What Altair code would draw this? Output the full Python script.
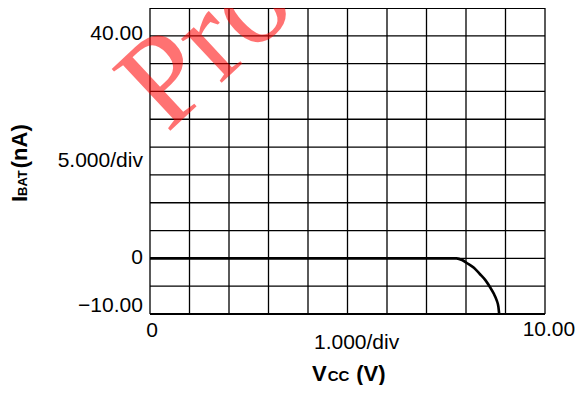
import altair as alt
import pandas as pd

# ---- data ----
vcc = [0, 7.6, 7.76, 7.9, 8.02, 8.2, 8.35, 8.5, 8.61, 8.7, 8.78, 8.82, 8.84]
ibat = [0, 0, 0, -0.3, -0.83, -1.7, -2.81, -4.0, -5.2, -6.3, -7.6, -8.7, -10]

x_grid = list(range(0, 11))
y_grid = list(range(-10, 50, 5))
y_border = [-10, 45]

y_tick_labels = ["40.00", "5.000/div", "0", "\u221210.00"]
y_tick_pos = [40.4, 17.5, 0.05, -8.6]
x_tick_labels = ["0", "10.00"]
x_tick_pos = [0.05, 10.1]
x_tick_y = [-13.1, -12.8]
x_div_label = ["1.000/div"]

FONT = "Liberation Sans, Arial, Helvetica, sans-serif"

xs = alt.Scale(domain=[0, 10], nice=False, zero=False)
ys = alt.Scale(domain=[-10, 45], nice=False, zero=False)

vgrid = alt.Chart(pd.DataFrame({"x": x_grid})).mark_rule(
    color="black", strokeWidth=1.3
).encode(x=alt.X("x:Q", scale=xs, axis=None))

hgrid = alt.Chart(pd.DataFrame({"y": y_grid})).mark_rule(
    color="black", strokeWidth=1.3
).encode(y=alt.Y("y:Q", scale=ys, axis=None))

hborder = alt.Chart(pd.DataFrame({"y": y_border})).mark_rule(
    color="black", strokeWidth=2.2
).encode(y=alt.Y("y:Q", scale=ys, axis=None))

curve = alt.Chart(pd.DataFrame({"v": vcc, "i": ibat})).mark_line(
    color="black", strokeWidth=2.6, interpolate="monotone"
).encode(
    x=alt.X("v:Q", scale=xs, axis=None),
    y=alt.Y("i:Q", scale=ys, axis=None),
)

ylab = alt.Chart(pd.DataFrame({"t": y_tick_labels, "y": y_tick_pos, "x": [-0.18] * 4})).mark_text(
    align="right", baseline="middle", font=FONT, fontSize=21, color="black"
).encode(x=alt.X("x:Q", scale=xs), y=alt.Y("y:Q", scale=ys), text="t:N")

xlab = alt.Chart(pd.DataFrame({"t": x_tick_labels, "x": x_tick_pos, "y": x_tick_y})).mark_text(
    align="center", baseline="middle", font=FONT, fontSize=21, color="black"
).encode(x=alt.X("x:Q", scale=xs), y=alt.Y("y:Q", scale=ys), text="t:N")

xdiv = alt.Chart(pd.DataFrame({"t": x_div_label, "x": [5.23], "y": [-15.2]})).mark_text(
    align="center", baseline="middle", font=FONT, fontSize=21, color="black"
).encode(x=alt.X("x:Q", scale=xs), y=alt.Y("y:Q", scale=ys), text="t:N")

# x title: V (CC) (V)
xt_text = ["V", "CC", "(V)"]
xt_x = [4.10, 4.50, 5.22]
xt_size = [22, 15, 22]
xtitle = alt.Chart(pd.DataFrame({"t": xt_text, "x": xt_x, "y": [-22.1] * 3, "s": xt_size})).mark_text(
    align="left", baseline="alphabetic", font=FONT, fontWeight="bold", color="black"
).encode(
    x=alt.X("x:Q", scale=xs), y=alt.Y("y:Q", scale=ys), text="t:N",
    size=alt.Size("s:Q", scale=None, legend=None),
)

# y title: I (BAT) (nA)
yt_text = ["I", "BAT", "(nA)"]
yt_y = [10.13, 11.21, 16.2]
yt_size = [22, 13, 22]
ytitle = alt.Chart(pd.DataFrame({"t": yt_text, "x": [-3.11] * 3, "y": yt_y, "s": yt_size})).mark_text(
    align="left", baseline="alphabetic", angle=270, font=FONT, fontWeight="bold", color="black"
).encode(
    x=alt.X("x:Q", scale=xs), y=alt.Y("y:Q", scale=ys), text="t:N",
    size=alt.Size("s:Q", scale=None, legend=None),
)

watermark = alt.Chart(pd.DataFrame({"t": ["Product Preview"], "x": [0.43], "y": [22.4]})).mark_text(
    align="left", baseline="alphabetic", angle=317, font="Liberation Serif, Times New Roman, serif",
    fontSize=130, color="#ff0000", opacity=0.55
).encode(x=alt.X("x:Q", scale=xs), y=alt.Y("y:Q", scale=ys), text="t:N")

chart = alt.layer(
    vgrid, hgrid, hborder, curve, ylab, xlab, xdiv, xtitle, ytitle, watermark
).properties(
    width=395, height=306,
    autosize=alt.AutoSizeParams(type="none"),
    padding={"left": 142, "top": 0, "right": 30, "bottom": 71},
).configure_view(stroke=None)

chart.save("out.html", embed_options={"renderer": "svg", "actions": False})
